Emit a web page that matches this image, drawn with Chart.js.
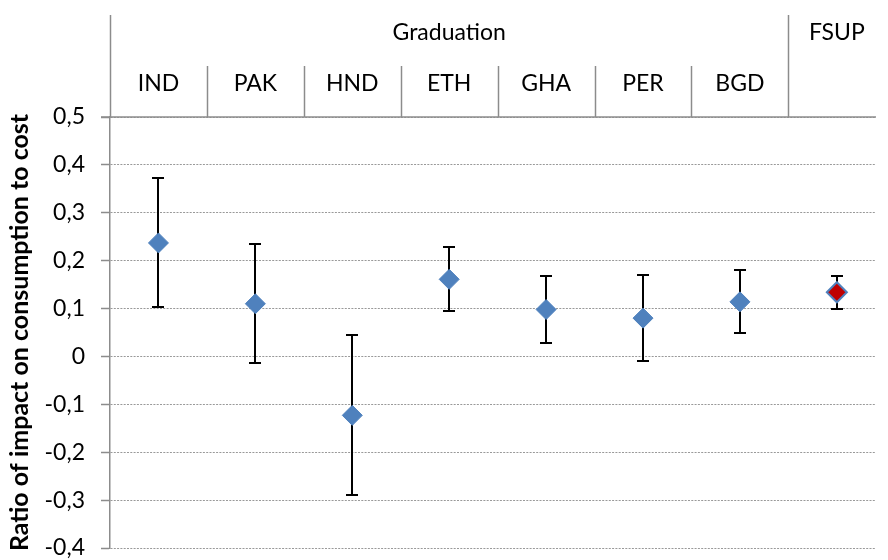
<!DOCTYPE html>
<html>
<head>
<meta charset="utf-8">
<script src="https://cdn.jsdelivr.net/npm/chart.js@4"></script>
<style>
  html, body { margin: 0; padding: 0; background: #fff; overflow: hidden; }
  #wrap { width: 888px; height: 560px; }
</style>
</head>
<body>
<div id="wrap"><canvas id="chart" width="888" height="560"></canvas></div>
<script>
// data
const categories = ["IND", "PAK", "HND", "ETH", "GHA", "PER", "BGD", "FSUP"];
const groups = ["Graduation", "Graduation", "Graduation", "Graduation", "Graduation", "Graduation", "Graduation", "FSUP"];
const estimates = [0.237, 0.110, -0.123, 0.161, 0.098, 0.080, 0.114, 0.134];
const lower = [0.104, -0.013, -0.289, 0.094, 0.028, -0.009, 0.050, 0.099];
const upper = [0.372, 0.234, 0.045, 0.228, 0.169, 0.171, 0.181, 0.169];
const yTicks = [0.5, 0.4, 0.3, 0.2, 0.1, 0, -0.1, -0.2, -0.3, -0.4];

const FONT = "Lato, 'Open Sans', sans-serif";
const LINE = "#8c8c8c";
const BLUE = "#4f81bd";
const RED = "#c00000";

const points = estimates.map((v, i) => ({ x: i + 1, y: v }));

// error bars
const errorBars = {
  id: "errorBars",
  beforeDatasetsDraw(chart) {
    const { ctx, scales: { x, y } } = chart;
    ctx.save();
    ctx.strokeStyle = "#000";
    ctx.lineWidth = 2;
    categories.forEach((c, i) => {
      const px = Math.round(x.getPixelForValue(i + 1));
      const yl = Math.round(y.getPixelForValue(lower[i]));
      const yu = Math.round(y.getPixelForValue(upper[i]));
      ctx.beginPath();
      ctx.moveTo(px, yl); ctx.lineTo(px, yu);
      ctx.moveTo(px - 6, yl); ctx.lineTo(px + 6, yl);
      ctx.moveTo(px - 6, yu); ctx.lineTo(px + 6, yu);
      ctx.stroke();
    });
    ctx.restore();
  }
};

// header table above the plot: group row + category row
const header = {
  id: "header",
  afterDraw(chart) {
    const { ctx, chartArea, scales: { x } } = chart;
    const top = chartArea.top;
    const rowTop = 15, midRow = 66;
    ctx.save();
    ctx.strokeStyle = LINE;
    ctx.lineWidth = 1.5;

    // solid top line
    ctx.beginPath();
    ctx.moveTo(chartArea.left - 9, top);
    ctx.lineTo(chartArea.right, top);
    ctx.stroke();

    ctx.fillStyle = "#000";
    ctx.textAlign = "center";
    ctx.textBaseline = "alphabetic";
    ctx.font = "23px " + FONT;

    // category labels and separators
    categories.forEach((c, i) => {
      const cx = x.getPixelForValue(i + 1);
      if (c !== groups[i]) ctx.fillText(c, cx, 91);
      const edge = Math.round(x.getPixelForValue(i + 0.5)) + 0.5;
      const startsGroup = i === 0 || groups[i] !== groups[i - 1];
      ctx.beginPath();
      ctx.moveTo(edge, startsGroup ? rowTop : midRow);
      ctx.lineTo(edge, top);
      ctx.stroke();
    });

    // group labels
    let start = 0;
    for (let i = 1; i <= groups.length; i++) {
      if (i === groups.length || groups[i] !== groups[start]) {
        const x0 = x.getPixelForValue(start + 0.5);
        const x1 = x.getPixelForValue(i + 0.5);
        ctx.fillText(groups[start], (x0 + x1) / 2, 40);
        start = i;
      }
    }
    ctx.restore();
  }
};

new Chart(document.getElementById("chart"), {
  type: "scatter",
  data: {
    datasets: [{
      data: points,
      pointStyle: "rectRot",
      pointRadius: 10,
      pointHoverRadius: 10,
      backgroundColor: ctx => groups[ctx.dataIndex] === "FSUP" ? RED : BLUE,
      borderColor: BLUE,
      borderWidth: ctx => groups[ctx.dataIndex] === "FSUP" ? 2 : 1
    }]
  },
  options: {
    responsive: false,
    animation: false,
    layout: { padding: { top: 117, right: 0, bottom: 12, left: 0 } },
    plugins: { legend: { display: false }, tooltip: { enabled: false } },
    scales: {
      x: {
        type: "linear",
        display: false,
        min: 0.5,
        max: 8.404
      },
      y: {
        min: -0.4,
        max: 0.5,
        afterFit(scale) {
          scale.width = 110;
          scale.paddingBottom = 0;
          scale.paddingTop = 0;
        },
        afterBuildTicks(scale) { scale.ticks = yTicks.map(v => ({ value: v })); },
        border: { display: true, color: LINE, width: 1.5, dash: [2, 1.3] },
        grid: {
          color: "#999",
          lineWidth: 1,
          tickLength: 9,
          tickColor: LINE,
          tickWidth: 1.5,
          tickBorderDash: [1, 0]
        },
        ticks: {
          color: "#000",
          padding: 16,
          font: { family: FONT, size: 23 },
          callback: v => (Math.round(v * 10) / 10).toString().replace(".", ",")
        },
        title: {
          display: true,
          text: "Ratio of impact on consumption to cost",
          color: "#000",
          font: { family: FONT, size: 25, weight: "bold" },
          padding: { top: 5, bottom: 0 }
        }
      }
    }
  },
  plugins: [errorBars, header]
});
</script>
</body>
</html>
